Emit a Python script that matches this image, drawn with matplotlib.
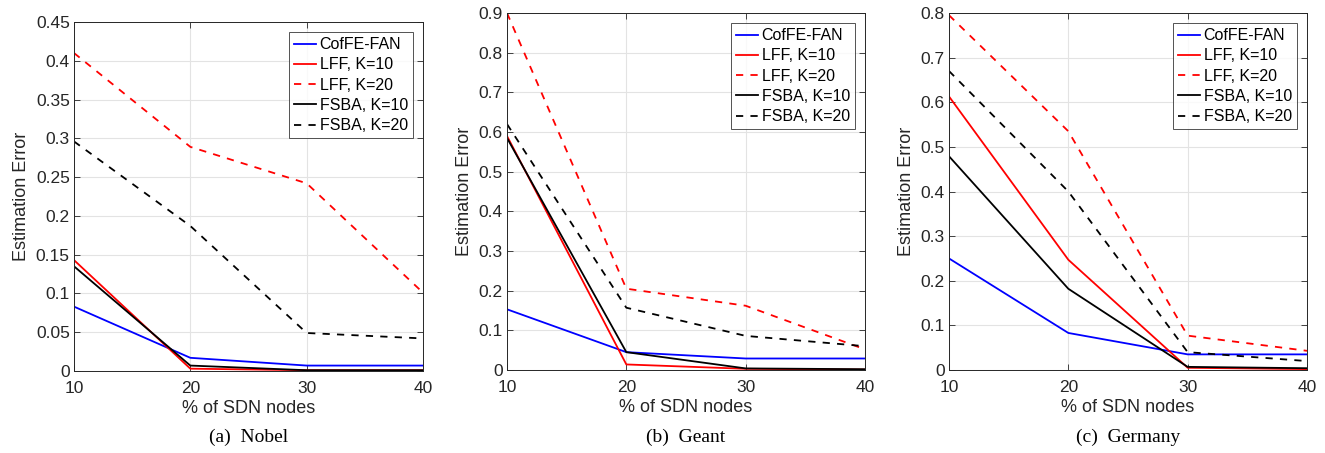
import matplotlib.pyplot as plt

plt.rcParams["font.family"] = ["Liberation Sans", "DejaVu Sans"]

W, H = 1325, 453

x_pct = [10, 20, 30, 40]
etiquetas = ["CofFE-FAN", "LFF, K=10", "LFF, K=20", "FSBA, K=10", "FSBA, K=20"]

# Nobel
nobel_coffe = [0.083, 0.017, 0.007, 0.007]
nobel_lff10 = [0.143, 0.003, 0.001, 0.001]
nobel_lff20 = [0.41, 0.289, 0.242, 0.101]
nobel_fsba10 = [0.135, 0.007, 0.001, 0.001]
nobel_fsba20 = [0.296, 0.187, 0.049, 0.042]

# Geant
geant_coffe = [0.153, 0.045, 0.029, 0.029]
geant_lff10 = [0.59, 0.014, 0.003, 0.001]
geant_lff20 = [0.90, 0.205, 0.162, 0.052]
geant_fsba10 = [0.585, 0.045, 0.004, 0.002]
geant_fsba20 = [0.62, 0.157, 0.086, 0.060]

# Germany
germany_coffe = [0.250, 0.083, 0.035, 0.035]
germany_lff10 = [0.613, 0.247, 0.005, 0.002]
germany_lff20 = [0.795, 0.535, 0.077, 0.043]
germany_fsba10 = [0.479, 0.182, 0.007, 0.004]
germany_fsba20 = [0.670, 0.400, 0.040, 0.020]

estilos = [("b", "-"), ("r", "-"), ("r", (0, (4, 4))), ("k", "-"), ("k", (0, (4, 4)))]

paneles = [
    {
        "series": [nobel_coffe, nobel_lff10, nobel_lff20, nobel_fsba10, nobel_fsba20],
        "ylim": 0.45, "yticks": [0, 0.05, 0.1, 0.15, 0.2, 0.25, 0.3, 0.35, 0.4, 0.45],
        "caja": (74, 22, 423, 371), "titulo": "(a)  Nobel",
    },
    {
        "series": [geant_coffe, geant_lff10, geant_lff20, geant_fsba10, geant_fsba20],
        "ylim": 0.9, "yticks": [0, 0.1, 0.2, 0.3, 0.4, 0.5, 0.6, 0.7, 0.8, 0.9],
        "caja": (507, 13, 865, 370), "titulo": "(b)  Geant",
    },
    {
        "series": [germany_coffe, germany_lff10, germany_lff20, germany_fsba10, germany_fsba20],
        "ylim": 0.8, "yticks": [0, 0.1, 0.2, 0.3, 0.4, 0.5, 0.6, 0.7, 0.8],
        "caja": (949, 13, 1307, 370), "titulo": "(c)  Germany",
    },
]


def fmt(v):
    s = f"{v:.2f}".rstrip("0").rstrip(".")
    return s if s != "" else "0"


fig = plt.figure(figsize=(W / 100, H / 100), dpi=100)

for p in paneles:
    x0, y0, x1, y1 = p["caja"]
    ax = fig.add_axes([x0 / W, 1 - y1 / H, (x1 - x0) / W, (y1 - y0) / H])
    for datos, nombre, (c, ls) in zip(p["series"], etiquetas, estilos):
        ax.plot(x_pct, datos, color=c, linestyle=ls, linewidth=1.3, label=nombre)
    ax.set_xlim(10, 40)
    ax.set_ylim(0, p["ylim"])
    ax.set_xticks(x_pct)
    ax.set_yticks(p["yticks"])
    ax.set_yticklabels([fmt(v) for v in p["yticks"]])
    ax.grid(True, color="#e3e3e3", linewidth=0.8)
    ax.set_axisbelow(True)
    ax.tick_params(direction="in", top=True, right=True, labelsize=12.5,
                   length=4, width=0.6, color="#262626", labelcolor="#262626", pad=3)
    ax.tick_params(axis="x", pad=7)
    for s in ax.spines.values():
        s.set_linewidth(0.7)
        s.set_color("#262626")
    ax.set_xlabel("% of SDN nodes", fontsize=13, color="#262626", labelpad=3)
    ax.set_ylabel("Estimation Error", fontsize=13, color="#262626", labelpad=4)
    leg = ax.legend(loc="upper right", fontsize=11.5, frameon=True, fancybox=False,
                    handlelength=1.4, handletextpad=0.2, borderpad=0.3,
                    labelspacing=0.33, borderaxespad=0.65)
    leg.get_frame().set_edgecolor("#262626")
    leg.get_frame().set_linewidth(0.7)
    fig.text((x0 + x1) / 2 / W, 1 - 437 / H, p["titulo"], ha="center", va="center",
             fontsize=14, family="Liberation Serif")

fig.savefig("out.png", dpi=100)
